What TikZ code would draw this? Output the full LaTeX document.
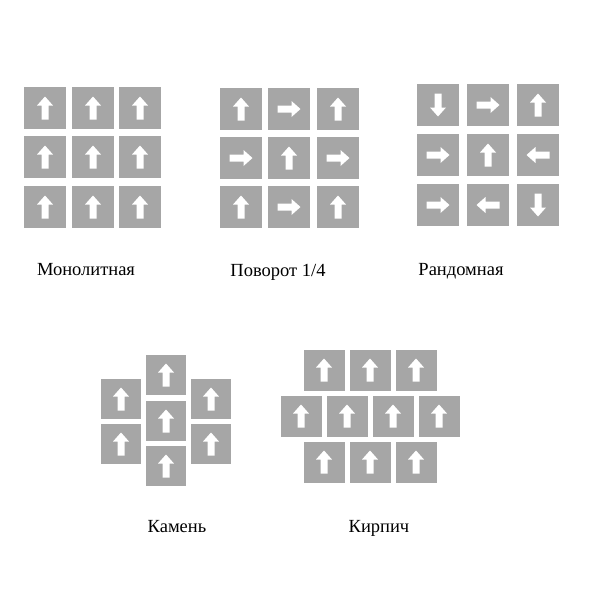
\documentclass[tikz,border=0pt]{standalone}
\usepackage{fontspec}
\setmainfont{Liberation Serif}
\definecolor{tilegray}{RGB}{166,166,166}
\tikzset{
  tilebox/.style={fill=tilegray, draw=none, inner sep=0pt, minimum width=42pt, minimum height=42pt},
  smalltile/.style={tilebox, minimum width=41pt, minimum height=41pt},
  lbl/.style={anchor=base, inner sep=0pt, font=\fontsize{18.5}{22}\selectfont},
  pics/arr/.style={code={\fill[white, rotate=#1] (-3.5,11.5) -- (-3.5,-2.5) -- (-8,-2.5) -- (0,-11.5) -- (8,-2.5) -- (3.5,-2.5) -- (3.5,11.5) -- cycle;}}
}
\begin{document}
\begin{tikzpicture}[x=1pt, y=-1pt]
\useasboundingbox (0,0) rectangle (600,600);
% Monolithic
\foreach \c/\x in {1/45,2/93,3/140}{
  \foreach \r/\y in {1/108,2/157,3/207}{
    \node[tilebox] (m\r\c) at (\x,\y) {};
    \path (m\r\c) pic {arr=0};
  }
}
% Rotation 1/4
\foreach \r/\c/\x/\y/\a in {1/1/241/109/0, 1/2/289/109/-90, 1/3/338/109/0,
  2/1/241/158/-90, 2/2/289/158/0, 2/3/338/158/-90,
  3/1/241/207/0, 3/2/289/207/-90, 3/3/338/207/0}{
  \node[tilebox] (p\r\c) at (\x,\y) {};
  \path (p\r\c) pic {arr=\a};
}
% Random
\foreach \r/\c/\x/\y/\a in {1/1/438/105/180, 1/2/488/105/-90, 1/3/538/105/0,
  2/1/438/155/-90, 2/2/488/155/0, 2/3/538/155/90,
  3/1/438/205/-90, 3/2/488/205/90, 3/3/538/205/180}{
  \node[tilebox] (r\r\c) at (\x,\y) {};
  \path (r\r\c) pic {arr=\a};
}
% Stone
\foreach \n/\x/\y in {1/121/399, 2/121/444, 3/166/375, 4/166/421, 5/166/466, 6/211/399, 7/211/444}{
  \node[smalltile, minimum width=40pt, minimum height=40pt] (s\n) at (\x,\y) {};
  \path (s\n) pic {arr=0};
}
% Brick
\foreach \n/\x/\y in {1/324/370, 2/370/370, 3/416/370,
  4/301/416, 5/347/416, 6/393/416, 7/439/416,
  8/324/462, 9/370/462, 10/416/462}{
  \node[smalltile] (b\n) at (\x,\y) {};
  \path (b\n) pic {arr=0};
}
% Labels
\node[lbl] (l1) at (86,275) {Монолитная};
\node[lbl] (l2) at (278,276) {Поворот 1/4};
\node[lbl] (l3) at (461,275) {Рандомная};
\node[lbl] (l4) at (177,532) {Камень};
\node[lbl] (l5) at (379,532) {Кирпич};
\end{tikzpicture}
\end{document}
